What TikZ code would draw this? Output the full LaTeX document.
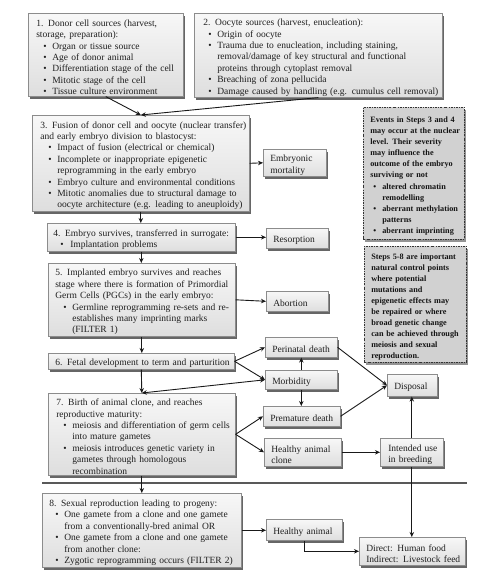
\documentclass[tikz,border=0pt]{standalone}
\usepackage{fontspec}
\setmainfont{Liberation Serif}
\usetikzlibrary{arrows.meta,shadows}
\newlength\bo \newlength\bw
\setlength\bo{7pt}\setlength\bw{9pt}
\newcommand{\Ln}[1]{\par\noindent\mbox{#1}}
\newcommand{\Bl}[1]{\par\noindent\hspace*{\bo}\makebox[\bw][l]{\textbullet}\mbox{#1}}
\newcommand{\Cl}[1]{\par\noindent\hspace*{\bo}\hspace*{\bw}\mbox{#1}}
\newcommand{\fs}{\fontsize{9.5}{11.4}\selectfont}
\newcommand{\fb}{\fontsize{8.2}{11.1}\selectfont\bfseries}
\begin{document}
\begin{tikzpicture}[x=1pt,y=-1pt,
 box/.style={draw=black!45, line width=0.6pt, top color=black!3, bottom color=black!13,
   anchor=north west, inner xsep=7pt, inner ysep=1pt, font=\fs, text=black!88,
   drop shadow={shadow xshift=1.6pt, shadow yshift=-2.4pt, fill=black!80, opacity=0.75}},
 note/.style={draw=black!80, line width=0.7pt, dash pattern=on 2pt off 1.2pt on 0.7pt off 1.2pt,
   fill=black!18, anchor=north west, inner xsep=6pt, inner ysep=1pt, font=\fb, text=black!92,
   drop shadow={shadow xshift=1.6pt, shadow yshift=-2.4pt, fill=black!70, opacity=0.6}},
 arr/.style={-{Stealth[length=5pt,width=4.5pt]}, line width=0.9pt, draw=black!90},
 darr/.style={{Stealth[length=5pt,width=4.5pt]}-{Stealth[length=5pt,width=4.5pt]}, line width=0.9pt, draw=black!90},
]
\useasboundingbox (0,0) rectangle (494,587);

% main step boxes
\node[box, inner xsep=8pt, text width=139pt, minimum height=83pt] (b1) at (28,13) {%
\Ln{1. Donor cell sources (harvest,}
\Ln{storage, preparation):}
\Bl{Organ or tissue source}
\Bl{Age of donor animal}
\Bl{Differentiation stage of the cell}
\Bl{Mitotic stage of the cell}
\Bl{Tissue culture environment}};

\node[box, inner xsep=9pt, text width=230pt, minimum height=84pt] (b2) at (194,13) {%
\setlength\bo{5pt}%
\Ln{2. Oocyte sources (harvest, enucleation):}
\Bl{Origin of oocyte}
\Bl{Trauma due to enucleation, including staining,}
\Cl{removal/damage of key structural and functional}
\Cl{proteins through cytoplast removal}
\Bl{Breaching of zona pellucida}
\Bl{Damage caused by handling (e.g. cumulus cell removal)}};

\node[box, inner xsep=8pt, text width=201pt, minimum height=96pt] (b3) at (32,115) {%
\setlength\bo{8pt}%
\Ln{3. Fusion of donor cell and oocyte (nuclear transfer)}
\Ln{and early embryo division to blastocyst:}
\Bl{Impact of fusion (electrical or chemical)}
\Bl{Incomplete or inappropriate epigenetic}
\Cl{reprogramming in the early embryo}
\Bl{Embryo culture and environmental conditions}
\Bl{Mitotic anomalies due to structural damage to}
\Cl{oocyte architecture (e.g. leading to aneuploidy)}};

\node[box, inner xsep=6pt, text width=176pt, minimum height=28pt] (b4) at (47,223) {%
\setlength\bw{10pt}%
\Ln{4. Embryo survives, transferred in surrogate:}
\Bl{Implantation problems}};

\node[box, text width=173pt, minimum height=73pt] (b5) at (48,263) {%
\setlength\bo{8pt}%
\Ln{5. Implanted embryo survives and reaches}
\Ln{stage where there is formation of Primordial}
\Ln{Germ Cells (PGCs) in the early embryo:}
\Bl{Germline reprogramming re-sets and re-}
\Cl{establishes many imprinting marks}
\Cl{(FILTER 1)}};

\node[box, text width=172pt, minimum height=16pt] (b6) at (48,353) {%
\Ln{6. Fetal development to term and parturition}};

\node[box, inner xsep=8pt, text width=171pt, minimum height=82pt] (b7) at (48,393) {%
\Ln{7. Birth of animal clone, and reaches}
\Ln{reproductive maturity:}
\Bl{meiosis and differentiation of germ cells}
\Cl{into mature gametes}
\Bl{meiosis introduces genetic variety in}
\Cl{gametes through homologous}
\Cl{recombination}};

\node[box, text width=185pt, minimum height=74pt] (b8) at (42,493) {%
\setlength\bo{6pt}%
\Ln{8. Sexual reproduction leading to progeny:}
\Bl{One gamete from a clone and one gamete}
\Cl{from a conventionally-bred animal OR}
\Bl{One gamete from a clone and one gamete}
\Cl{from another clone:}
\Bl{Zygotic reprogramming occurs (FILTER 2)}};

% outcome boxes
\node[box, text width=49pt, minimum height=27pt] (em) at (263,149) {\Ln{Embryonic}\Ln{mortality}};
\node[box, text width=48pt, minimum height=20pt] (res) at (266,228) {\Ln{Resorption}};
\node[box, text width=48pt, minimum height=20pt] (ab) at (266,291) {\Ln{Abortion}};
\node[box, text width=58pt, minimum height=20pt] (peri) at (265,337) {\Ln{Perinatal death}};
\node[box, text width=58pt, minimum height=19pt] (morb) at (265,370) {\Ln{Morbidity}};
\node[box, text width=63pt, minimum height=20pt] (prem) at (263,406) {\Ln{Premature death}};
\node[box, text width=63pt, minimum height=28pt] (hac) at (264,438) {\Ln{Healthy animal}\Ln{clone}};
\node[box, text width=36pt, minimum height=22pt] (disp) at (387,374) {\Ln{Disposal}};
\node[box, inner xsep=8pt, text width=47pt, minimum height=28pt] (iu) at (380,438) {\Ln{Intended use}\Ln{in breeding}};
\node[box, text width=62pt, minimum height=21pt] (ha) at (266,519) {\Ln{Healthy animal}};
\node[box, text width=92pt, minimum height=28pt] (dir) at (359,537) {\Ln{Direct: Human food}\Ln{Indirect: Livestock feed}};

% note boxes
\node[note, inner xsep=7pt, text width=87pt, minimum height=132pt] (na) at (363,107) {%
\setlength\bo{3pt}%
\Ln{Events in Steps 3 and 4}
\Ln{may occur at the nuclear}
\Ln{level. Their severity}
\Ln{may influence the}
\Ln{outcome of the embryo}
\Ln{surviving or not}
\Bl{altered chromatin}
\Cl{remodelling}
\Bl{aberrant methylation}
\Cl{patterns}
\Bl{aberrant imprinting}};

\node[note, inner xsep=7pt, text width=88pt, minimum height=116pt] (nb) at (364,246) {%
\Ln{Steps 5-8 are important}
\Ln{natural control points}
\Ln{where potential}
\Ln{mutations and}
\Ln{epigenetic effects may}
\Ln{be repaired or where}
\Ln{broad genetic change}
\Ln{can be achieved through}
\Ln{meiosis and sexual}
\Ln{reproduction.}};

% separator
\draw[line width=2.8pt, black!65] (42,483) -- (467,483);

% connectors
\draw[arr] (b1.south) -- (b3.north);
\draw[arr] (b2.south) -- (b3.north);
\draw[arr] (b3.south) -- (b3.south |- b4.north);
\draw[arr] (b3.east) -- (em.west);
\draw[arr] (b4.east) -- (b4.east -| res.west);
\draw[arr] (b4.south) -- (b4.south |- b5.north);
\draw[arr] (b5.east) -- (ab.west);
\draw[arr] (b5.south) -- (b5.south |- b6.north);
\draw[arr] (b6.east) -- (peri.west);
\draw[arr] (b6.east) -- (morb.west);
\draw[arr] (b6.south) -- (b7.north);
\draw[darr] (b7.north) -- (morb.west);
\draw[arr] (morb.north) -- (peri.south);
\draw[arr] (morb.south) -- (morb.south |- prem.north);
\draw[arr] (peri.east) -- (disp.west);
\draw[arr] (prem.east) -- (disp.west);
\draw[arr] (b7.east) -- (prem.west);
\draw[arr] (b7.east) -- (hac.west);
\draw[arr] (hac.east) -- (hac.east -| iu.west);
\draw[arr] (iu.north) -- (iu.north |- disp.south);
\draw[arr] (b7.south) -- (b7.south |- b8.north);
\draw[arr] (iu.south) -- (iu.south |- dir.north);
\draw[arr] (b8.east) -- (b8.east -| ha.west);
\draw[arr] (ha.south) |- (dir.west);
\end{tikzpicture}
\end{document}
